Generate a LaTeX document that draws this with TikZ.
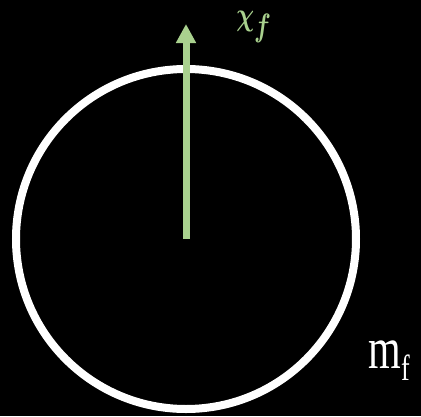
\documentclass[tikz,border=0pt]{standalone}
\usepackage{fontspec}
\setmainfont{Liberation Serif}
\usetikzlibrary{arrows.meta}
\definecolor{lgreen}{HTML}{A9D18E}
\begin{document}
\begin{tikzpicture}[x=1pt,y=-1pt,
  ring/.style={circle, draw=white, line width=8pt, minimum size=340pt, inner sep=0pt},
  vec/.style={draw=lgreen, line width=7pt, -{Triangle[width=19pt,length=19pt]}},
  lbl/.style={inner sep=0pt, transform shape}]
\fill[black] (0,0) rectangle (421,416);
\useasboundingbox (0,0) rectangle (421,416);
\node[ring] (c) at (186,239) {};
\coordinate (tip) at (186,24);
\draw[vec] (c.center) -- (tip);
\begin{scope}[shift={(254,27)}, yscale=1.3]
\node[lbl, text=lgreen, font=\fontsize{40}{40}\selectfont\boldmath] (chi) at (0,0) {$\chi_f$};
\end{scope}
\begin{scope}[shift={(389,361)}, yscale=1.4]
\node[lbl, text=white, font=\fontsize{42}{42}\selectfont] (mf) at (0,0) {m\raisebox{-0.2em}{\fontsize{26}{26}\selectfont f}};
\end{scope}
\end{tikzpicture}
\end{document}
